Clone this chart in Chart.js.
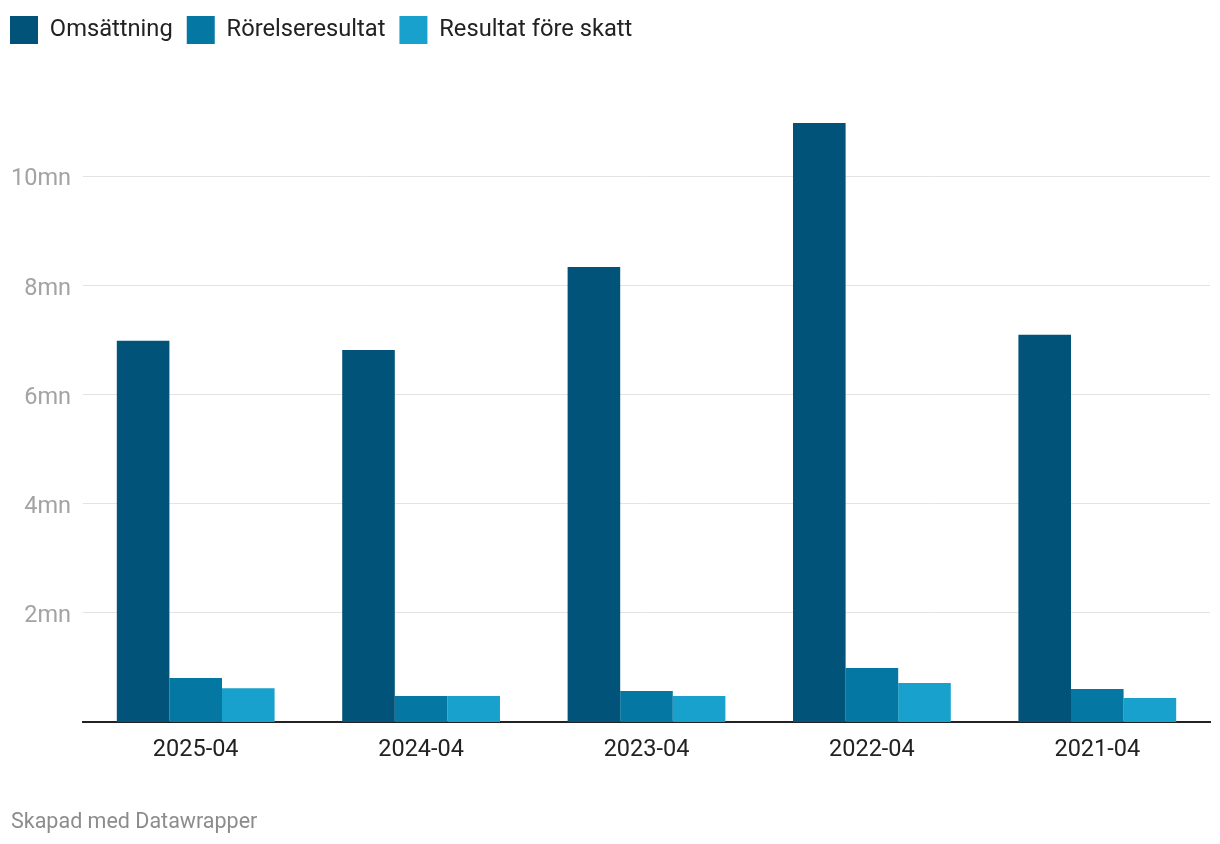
<!DOCTYPE html>
<html>
<head>
<meta charset="utf-8">
<script src="https://cdn.jsdelivr.net/npm/chart.js@4.4.1/dist/chart.umd.min.js"></script>
<style>
  html, body { margin: 0; padding: 0; background: #fff; }
  #wrap { position: relative; width: 1220px; height: 844px; }
  #footer { position: absolute; left: 11px; top: 808px; font-family: Roboto, sans-serif; font-size: 21.5px; color: #8c8c8c; }
</style>
</head>
<body>
<div id="wrap">
  <canvas id="c" width="1220" height="844"></canvas>
  <div id="footer">Skapad med Datawrapper</div>
</div>
<script>
const categories = ['2025-04', '2024-04', '2023-04', '2022-04', '2021-04'];
const seriesNames = ['Omsättning', 'Rörelseresultat', 'Resultat före skatt'];
const omsattning = [6990000, 6820000, 8340000, 10980000, 7100000];
const rorelseresultat = [807000, 477000, 570000, 990000, 605000];
const resultatForeSkatt = [620000, 477000, 477000, 715000, 440000];
const yTickValues = [2000000, 4000000, 6000000, 8000000, 10000000];
const colors = ['#01537a', '#0478a3', '#19a1cd'];

const legendSpacer = {
  id: 'legendSpacer',
  beforeInit(chart) {
    const origFit = chart.legend.fit;
    chart.legend.fit = function () {
      origFit.bind(chart.legend)();
      this.height = 120;
    };
  }
};

new Chart(document.getElementById('c'), {
  type: 'bar',
  data: {
    labels: categories,
    datasets: [
      { label: seriesNames[0], data: omsattning, backgroundColor: colors[0] },
      { label: seriesNames[1], data: rorelseresultat, backgroundColor: colors[1] },
      { label: seriesNames[2], data: resultatForeSkatt, backgroundColor: colors[2] }
    ]
  },
  options: {
    responsive: false,
    animation: false,
    layout: { padding: { left: -4, right: 10, top: 2, bottom: 0 } },
    datasets: { bar: { categoryPercentage: 0.7, barPercentage: 1.0, borderWidth: 0 } },
    plugins: {
      legend: {
        position: 'top',
        align: 'start',
        labels: {
          boxWidth: 28,
          boxHeight: 28,
          padding: 14,
          color: '#222222',
          font: { family: 'Roboto', size: 23.7 }
        }
      },
      tooltip: { enabled: false }
    },
    scales: {
      x: {
        grid: { display: false },
        border: { display: true, color: '#222222', width: 2 },
        ticks: { color: '#222222', font: { family: 'Roboto', size: 23.5 }, padding: 6, maxRotation: 0 },
        afterFit(scale) { scale.height = 122; }
      },
      y: {
        min: 0,
        max: 11000000,
        border: { display: false },
        grid: { color: '#e3e3e3', lineWidth: 1, drawTicks: false },
        afterBuildTicks(axis) {
          axis.ticks = yTickValues.map(v => ({ value: v }));
        },
        afterFit(scale) { scale.width = 87; },
        ticks: {
          color: '#a3a3a3',
          font: { family: 'Roboto', size: 23.5 },
          padding: 12,
          labelOffset: 3,
          callback: v => (v / 1000000) + 'mn'
        }
      }
    }
  },
  plugins: [legendSpacer]
});
</script>
</body>
</html>
